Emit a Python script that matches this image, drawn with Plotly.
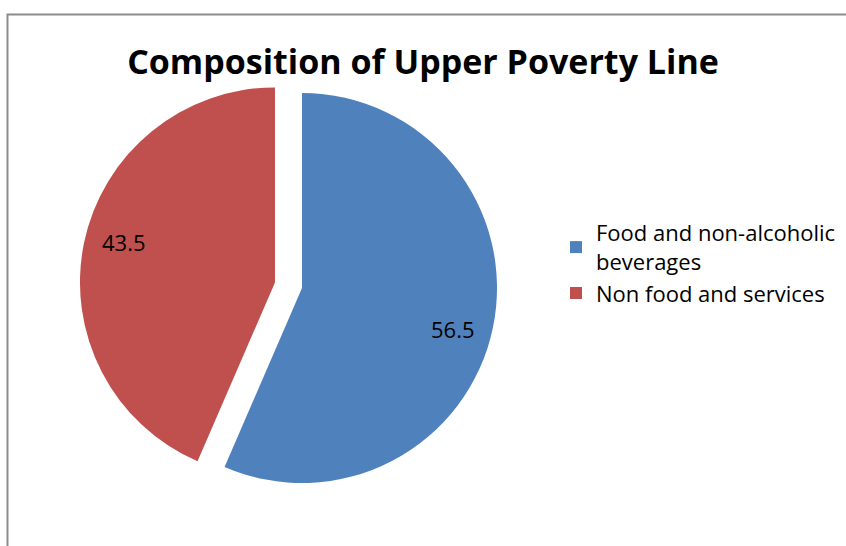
import math
import plotly.graph_objects as go

categories = ["Food and non-alcoholic<br>beverages", "Non food and services"]
values = [56.5, 43.5]
pulls = [0.0, 0.1415]
colors = ["#4F81BD", "#C0504D"]

W, H = 846, 546
FONT = "Open Sans"

# pie layout (pixels)
CX, CY, R = 302, 288, 195
half = R * (1 + max(pulls))
dom_x = [(CX - half) / W, (CX + half) / W]
dom_y = [1 - (CY + half) / H, 1 - (CY - half) / H]

fig = go.Figure(go.Pie(
    labels=categories,
    values=values,
    pull=pulls,
    sort=False,
    direction="clockwise",
    rotation=0,
    marker=dict(colors=colors, line=dict(width=0)),
    textinfo="none",
    textposition="none",
    hoverinfo="label+value",
    domain=dict(x=dom_x, y=dom_y),
))

# data labels placed near each slice bisector (best-fit style)
LABEL_R = 0.80
LABEL_ROT = math.radians(3.5)
total = sum(values)
cum = 0.0
annotations = []
for v, p in zip(values, pulls):
    mid = 2 * math.pi * (cum + v / 2) / total
    cum += v
    ox = CX + p * R * math.sin(mid)
    oy = CY - p * R * math.cos(mid)
    a = mid + LABEL_ROT
    lx = ox + LABEL_R * R * math.sin(a)
    ly = oy - LABEL_R * R * math.cos(a)
    annotations.append(dict(
        x=lx / W, y=1 - ly / H, xref="paper", yref="paper",
        text=f"{v:.1f}", showarrow=False,
        xanchor="center", yanchor="middle",
        font=dict(family=FONT, size=22, color="#000000"),
    ))

fig.update_layout(
    width=W, height=H,
    margin=dict(l=0, r=0, t=0, b=0, autoexpand=False),
    paper_bgcolor="white",
    plot_bgcolor="white",
    font=dict(family=FONT, color="#000000"),
    title=dict(
        text="<b>Composition of Upper Poverty Line</b>",
        x=0.5, xanchor="center",
        y=1 - 62 / H, yanchor="middle", yref="container",
        font=dict(family=FONT, size=34, color="#000000"),
    ),
    showlegend=True,
    legend=dict(
        x=556 / W, xanchor="left",
        y=1 - 212 / H, yanchor="top",
        font=dict(family=FONT, size=22, color="#000000"),
        bgcolor="rgba(0,0,0,0)",
    ),
    annotations=annotations,
    shapes=[
        dict(type="rect", xref="paper", yref="paper",
             x0=7.5 / W, x1=1.05, y0=-0.05, y1=1 - 14.5 / H,
             line=dict(color="#8C8C8C", width=2), fillcolor="rgba(0,0,0,0)"),
    ],
)

fig.write_html("out.html", post_script="document.body.style.margin='0';",
               config={"displayModeBar": False})
